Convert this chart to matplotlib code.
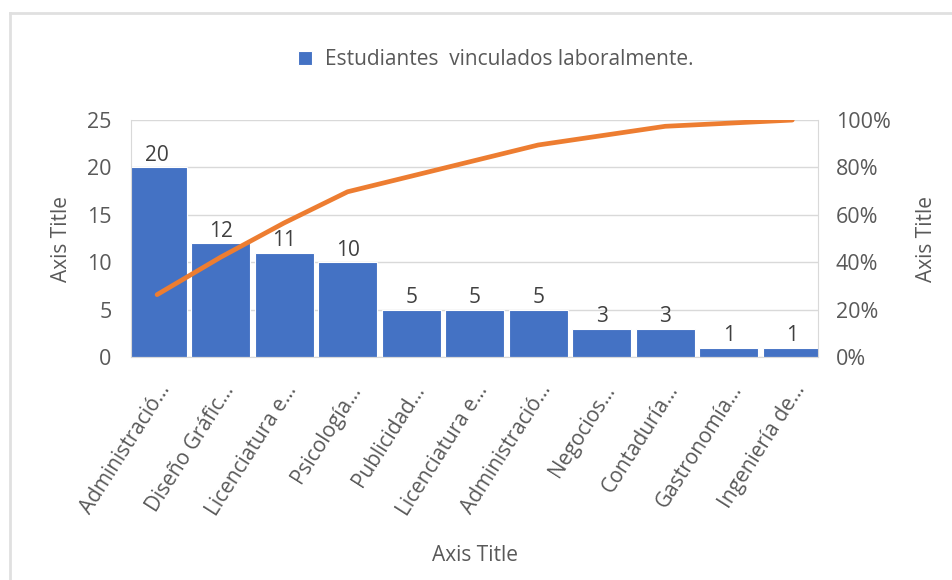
import matplotlib.pyplot as plt
from matplotlib.lines import Line2D
from matplotlib.ticker import FuncFormatter

categories = [
    "Administració…", "Diseño Gráfic…", "Licenciatura e…", "Psicología…",
    "Publicidad…", "Licenciatura e…", "Administració…", "Negocios…",
    "Contaduría…", "Gastronomía…", "Ingeniería de…",
]
students = [20, 12, 11, 10, 5, 5, 5, 3, 3, 1, 1]
series_name = "Estudiantes  vinculados laboralmente."

BAR_COLOR = "#4472C4"
LINE_COLOR = "#ED7D31"
TEXT_COLOR = "#595959"
GRID_COLOR = "#D9D9D9"

plt.rcParams["font.family"] = ["Open Sans", "DejaVu Sans"]


def main():
    total = sum(students)
    cumulative = []
    running = 0
    for v in students:
        running += v
        cumulative.append(running / total * 100)

    fig = plt.figure(figsize=(9.53, 5.8), dpi=100)
    ax = fig.add_axes([0.1375, 0.3845, 0.7205, 0.4085])
    x = list(range(len(categories)))

    bars = ax.bar(x, students, width=0.93, color=BAR_COLOR,
                  edgecolor="white", linewidth=0.8, label=series_name, zorder=2)
    for rect, v in zip(bars, students):
        ax.annotate(str(v), (rect.get_x() + rect.get_width() / 2, v),
                    xytext=(0, 1), textcoords="offset points",
                    ha="center", va="bottom", fontsize=15, color="#404040")

    ax.set_xlim(-0.41, 10.40)
    ax.set_ylim(0, 25)
    ax.set_yticks([0, 5, 10, 15, 20, 25])
    ax.grid(axis="y", color=GRID_COLOR, linewidth=1, zorder=0)
    ax.set_axisbelow(True)
    ax.spines["top"].set_visible(False)
    for side in ["left", "right", "bottom"]:
        ax.spines[side].set_color(GRID_COLOR)

    ax.set_xticks(x)
    ax.set_xticklabels(categories, rotation=57.5, ha="right", va="top",
                       rotation_mode="anchor", fontsize=15, color=TEXT_COLOR)
    ax.tick_params(axis="x", length=0, pad=17)
    ax.tick_params(axis="y", length=0, pad=14, labelsize=15.5, labelcolor=TEXT_COLOR)

    ax2 = ax.twinx()
    ax2.plot(x, cumulative, color=LINE_COLOR, linewidth=3.4, solid_capstyle="round", zorder=3)
    ax2.set_ylim(0, 100)
    ax2.set_yticks([0, 20, 40, 60, 80, 100])
    ax2.yaxis.set_major_formatter(FuncFormatter(lambda v, _: f"{v:.0f}%"))
    ax2.tick_params(axis="y", length=0, pad=13, labelsize=15.5, labelcolor=TEXT_COLOR)
    for side in ["top", "left", "right", "bottom"]:
        ax2.spines[side].set_visible(False)

    ax.set_ylabel("Axis Title", fontsize=15, color=TEXT_COLOR, labelpad=11)
    ax2.set_ylabel("Axis Title", fontsize=15, color=TEXT_COLOR, labelpad=18)
    fig.text(0.498, 0.043, "Axis Title", ha="center", va="center",
             fontsize=15, color=TEXT_COLOR)

    fig.legend(handles=[bars], labels=[series_name], loc="center",
               bbox_to_anchor=(0.52, 0.897), frameon=False, fontsize=15,
               handlelength=0.7, handleheight=0.7, handletextpad=0.6,
               labelcolor=TEXT_COLOR)

    # chart area frame (top and left edges only)
    fig.add_artist(Line2D([0.011, 1.0], [0.978, 0.978], color="#E0E0E0", linewidth=2))
    fig.add_artist(Line2D([0.011, 0.011], [0.0, 0.978], color="#E0E0E0", linewidth=2))

    fig.savefig("out.png", dpi=100)
    plt.close(fig)


if __name__ == "__main__":
    main()
